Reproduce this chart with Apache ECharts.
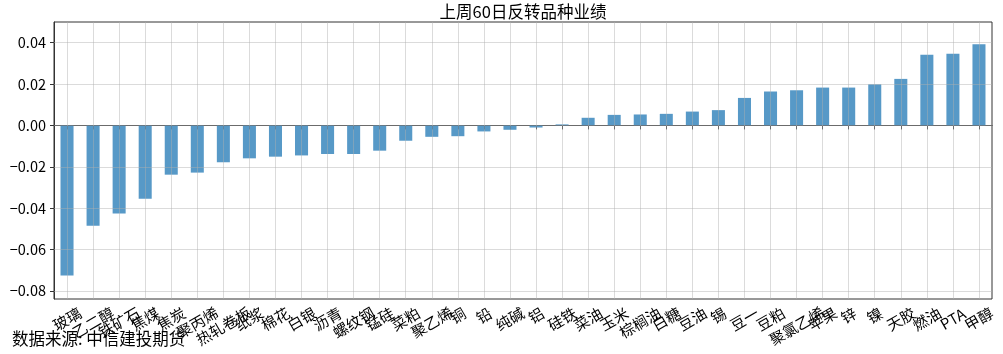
<!DOCTYPE html>
<html>
<head>
<meta charset="utf-8">
<script src="https://cdn.jsdelivr.net/npm/echarts@6/dist/echarts.min.js"></script>
<style>
html,body{margin:0;padding:0;background:#fff;}
#chart{width:1003px;height:354px;}
</style>
</head>
<body>
<div id="chart"></div>
<script>
const titleText = '上周60日反转品种业绩';
const sourceText = '数据来源: 中信建投期货';
const categories = ['玻璃','乙二醇','铁矿石','焦煤','焦炭','聚丙烯','热轧卷板','纸浆','棉花','白银','沥青','螺纹钢','锰硅','菜粕','聚乙烯','铜','铅','纯碱','铝','硅铁','菜油','玉米','棕榈油','白糖','豆油','锡','豆一','豆粕','聚氯乙烯','苹果','锌','镍','天胶','燃油','PTA','甲醇'];
const values = [-0.0725,-0.0485,-0.0426,-0.0355,-0.0238,-0.0228,-0.0178,-0.0159,-0.0151,-0.0145,-0.0138,-0.0138,-0.0122,-0.0074,-0.0055,-0.0052,-0.0029,-0.0021,-0.0010,0.0005,0.0037,0.0051,0.0053,0.0056,0.0067,0.0074,0.0133,0.0164,0.0170,0.0183,0.0183,0.0199,0.0225,0.0342,0.0347,0.0392];
const yTicks = [-0.08,-0.06,-0.04,-0.02,0,0.02,0.04];

const FONT = '"Noto Sans CJK SC", "DejaVu Sans", sans-serif';
const gridColor = 'rgba(176,176,176,0.45)';

function labelLen(s){ return s === 'PTA' ? 2 : s.length; }

const chart = echarts.init(document.getElementById('chart'), null, {renderer:'canvas'});
const markData = [];
yTicks.forEach(v => markData.push({yAxis: v}));
categories.forEach(c => markData.push({xAxis: c}));

chart.setOption({
  animation: false,
  backgroundColor: '#fff',
  title: {
    text: titleText, left: 523, textAlign: 'center', top: 3, padding: 0,
    textStyle: {fontFamily: FONT, fontSize: 16.5, fontWeight: 'normal', color: '#000'}
  },
  graphic: [{
    type: 'text', left: 12, top: 330,
    style: {text: sourceText, font: '16.5px ' + FONT, fill: '#000'}
  }],
  grid: {left: 54, right: 11, top: 22, bottom: 55, show: true, borderColor: '#333', borderWidth: 1, backgroundColor: 'transparent'},
  xAxis: {
    type: 'category', data: categories,
    axisLine: {show: true, lineStyle: {color: '#333', width: 1}},
    axisTick: {show: true, alignWithLabel: true, length: 4, lineStyle: {color: '#333'}},
    splitLine: {show: false},
    axisLabel: {
      interval: 0, rotate: 30, margin: 20, align: 'center', verticalAlign: 'middle',
      fontFamily: FONT, fontSize: 15, color: '#000',
      formatter: v => '{n' + labelLen(v) + '|' + v + '}',
      rich: {
        n1: {fontFamily: FONT, fontSize: 15, color: '#000', padding: [0,0,6,3.5]},
        n2: {fontFamily: FONT, fontSize: 15, color: '#000'},
        n3: {fontFamily: FONT, fontSize: 15, color: '#000', padding: [6,3.5,0,0]},
        n4: {fontFamily: FONT, fontSize: 15, color: '#000', padding: [12,7,0,0]}
      }
    }
  },
  yAxis: {
    type: 'value', min: -0.0839, max: 0.05,
    axisLine: {show: true, lineStyle: {color: '#333', width: 1}},
    axisTick: {show: true, length: 4, customValues: yTicks, lineStyle: {color: '#333'}},
    splitLine: {show: false},
    axisLabel: {
      customValues: yTicks, margin: 8, fontFamily: FONT, fontSize: 14.5, color: '#000',
      formatter: v => (v < 0 ? '\u2212' : '') + Math.abs(v).toFixed(2)
    }
  },
  series: [{
    type: 'bar', data: values, barWidth: '50%',
    itemStyle: {color: 'rgba(31,119,180,0.75)'},
    markLine: {
      silent: true, symbol: 'none', label: {show: false}, z: 5,
      lineStyle: {color: gridColor, width: 1, type: 'solid'},
      emphasis: {disabled: true},
      data: markData
    }
  }]
});
</script>
</body>
</html>
